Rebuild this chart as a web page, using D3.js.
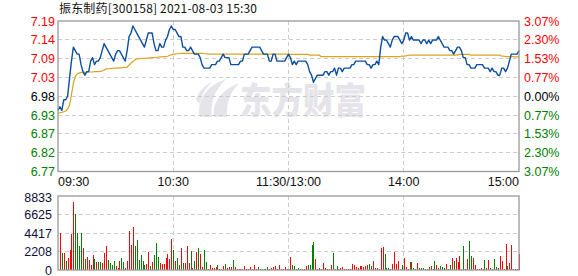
<!DOCTYPE html>
<html><head><meta charset="utf-8">
<script src="https://cdn.jsdelivr.net/npm/d3@7"></script>
<style>body{margin:0;background:#fff}svg{display:block}</style>
</head><body>
<svg id="c" width="578" height="276"></svg>
<script>
// ---------------- data ----------------
const title = "振东制药[300158] 2021-08-03 15:30";
const preClose = 6.98;
const maxPct = 3.07;
const priceTickLabels = ["7.19","7.14","7.09","7.03","6.98","6.93","6.87","6.82","6.77"];
const pctTickLabels = ["3.07%","2.30%","1.53%","0.77%","0.00%","0.77%","1.53%","2.30%","3.07%"];
const volTickLabels = ["8833","6625","4417","2208","0"];
const volMax = 8833;
const timeLabels = ["09:30","10:30","11:30/13:00","14:00","15:00"];
const timeLabelMinute = [0,60,120,180,240];

const price = [
6.94,6.95,6.94,6.97,6.97,6.98,7.03,7.08,7.12,7.11,7.10,
7.10,7.07,7.05,7.04,7.05,7.05,7.08,7.09,7.07,7.08,
7.08,7.09,7.11,7.13,7.12,7.11,7.10,7.09,7.08,7.10,
7.11,7.11,7.10,7.09,7.08,7.11,7.15,7.16,7.18,7.17,
7.16,7.15,7.14,7.13,7.12,7.14,7.16,7.16,7.16,7.13,
7.11,7.11,7.13,7.12,7.12,7.14,7.15,7.17,7.18,7.17,
7.17,7.16,7.15,7.15,7.12,7.12,7.11,7.11,7.12,7.11,
7.10,7.10,7.10,7.09,7.07,7.06,7.06,7.06,7.06,7.07,
7.07,7.07,7.08,7.08,7.09,7.10,7.09,7.09,7.09,7.07,
7.07,7.07,7.07,7.07,7.08,7.08,7.10,7.10,7.10,7.11,
7.12,7.12,7.12,7.12,7.12,7.11,7.10,7.10,7.10,7.08,
7.08,7.10,7.10,7.08,7.08,7.08,7.08,7.08,7.09,7.10,
7.09,7.07,7.08,7.07,7.08,7.08,7.08,7.08,7.08,7.07,
7.05,7.04,7.02,7.03,7.04,7.04,7.04,7.04,7.05,7.05,
7.04,7.05,7.05,7.06,7.04,7.06,7.06,7.05,7.06,7.06,
7.06,7.06,7.07,7.07,7.08,7.08,7.08,7.08,7.08,7.08,
7.07,7.07,7.06,7.07,7.07,7.08,7.07,7.12,7.15,7.14,
7.14,7.13,7.12,7.14,7.15,7.15,7.15,7.14,7.13,7.14,
7.16,7.16,7.14,7.15,7.14,7.14,7.14,7.14,7.13,7.14,
7.14,7.13,7.14,7.13,7.14,7.14,7.14,7.15,7.14,7.13,
7.12,7.12,7.12,7.11,7.11,7.10,7.11,7.12,7.12,7.11,
7.09,7.09,7.07,7.07,7.06,7.06,7.06,7.07,7.07,7.07,
7.07,7.06,7.06,7.06,7.05,7.06,7.05,7.05,7.04,7.04,
7.06,7.06,7.05,7.06,7.08,7.10,7.10,7.10,7.10,7.11
];

const avgPrice = [
6.932,6.933,6.934,6.936,6.938,6.943,6.955,6.984,7.017,7.036,7.044,
7.046,7.048,7.048,7.048,7.048,7.049,7.049,7.049,7.050,7.050,
7.050,7.051,7.052,7.055,7.058,7.058,7.059,7.059,7.060,7.060,
7.060,7.061,7.061,7.062,7.062,7.063,7.069,7.074,7.079,7.083,
7.086,7.087,7.087,7.088,7.088,7.088,7.089,7.089,7.090,7.090,
7.091,7.091,7.092,7.092,7.093,7.093,7.094,7.096,7.098,7.100,
7.100,7.101,7.101,7.102,7.102,7.102,7.102,7.102,7.102,7.102,
7.102,7.102,7.102,7.102,7.102,7.101,7.101,7.100,7.100,7.100,
7.100,7.100,7.100,7.100,7.100,7.100,7.100,7.100,7.100,7.100,
7.100,7.100,7.100,7.100,7.100,7.100,7.100,7.100,7.100,7.100,
7.100,7.100,7.100,7.100,7.100,7.100,7.100,7.100,7.100,7.100,
7.100,7.100,7.100,7.100,7.100,7.100,7.100,7.100,7.100,7.100,
7.099,7.099,7.099,7.099,7.099,7.099,7.099,7.099,7.099,7.099,
7.097,7.097,7.097,7.097,7.097,7.097,7.093,7.093,7.093,7.093,
7.093,7.093,7.093,7.093,7.093,7.093,7.093,7.093,7.093,7.093,
7.093,7.093,7.093,7.093,7.093,7.093,7.093,7.093,7.093,7.093,
7.093,7.093,7.093,7.093,7.093,7.093,7.093,7.093,7.093,7.093,
7.093,7.093,7.093,7.093,7.093,7.093,7.093,7.093,7.094,7.094,
7.095,7.096,7.097,7.097,7.097,7.097,7.097,7.097,7.097,7.097,
7.097,7.097,7.097,7.097,7.097,7.097,7.097,7.097,7.097,7.097,
7.097,7.097,7.097,7.097,7.097,7.097,7.097,7.098,7.099,7.099,
7.099,7.099,7.099,7.099,7.097,7.097,7.097,7.097,7.097,7.097,
7.097,7.097,7.097,7.097,7.097,7.097,7.097,7.097,7.097,7.097,
7.094,7.094,7.093,7.093,7.093,7.093,7.093,7.092,7.092,7.092
];

const volume = [
0,4378,1990,1990,1075,1393,2388,4259,8079,6647,4378,
2866,4378,2587,1313,1552,1194,597,1791,1274,915,
915,915,796,1990,2866,1194,796,597,1075,517,
279,1075,1393,915,199,1075,4657,2985,5134,2866,
3582,1194,1791,1075,597,716,2149,478,955,1791,
3224,1552,796,716,716,1433,1910,1313,3701,2388,
1075,1433,597,2627,836,836,2866,836,2269,239,
1075,2149,2627,1910,358,2388,955,119,597,239,
239,358,597,159,159,478,716,239,358,398,
1194,358,159,159,159,159,478,159,159,358,
159,597,119,358,119,119,119,119,358,119,
239,398,478,119,597,119,119,358,119,119,
1552,597,478,119,279,119,119,119,478,597,
597,2985,3343,1313,119,239,119,836,239,119,
119,597,2030,119,478,119,239,358,119,119,
119,119,716,597,358,239,478,478,358,517,
597,716,478,1075,239,239,119,2627,2746,1910,
239,239,119,716,2149,716,1075,119,597,1433,
358,119,955,955,239,119,836,239,239,239,
119,119,358,478,119,1075,597,239,478,358,
239,716,119,597,1433,1075,1433,955,1672,60,
2866,119,1313,3463,1672,1433,597,119,119,239,
60,1194,239,1194,239,119,1313,358,239,1672,
1075,119,3104,478,836,2985,60,60,60,1910
];

// 1 = up (red), 0 = down (green)
const volUp = [
1,1,0,1,0,1,1,1,1,0,0,
0,0,1,0,1,1,1,1,0,1,
0,0,1,1,1,0,0,0,0,1,
1,1,0,0,0,1,1,1,1,0,
0,0,0,0,0,1,1,0,1,0,
0,0,1,1,1,1,1,1,1,0,
1,0,0,1,0,1,1,1,0,1,
0,1,0,1,1,0,0,1,1,1,
1,1,0,1,1,1,0,1,1,1,
0,1,1,1,1,1,1,1,1,1,
1,1,1,0,0,0,0,0,0,0,
1,1,1,1,1,1,1,1,1,1,
1,0,0,0,0,1,1,1,1,0,
0,0,0,1,1,1,1,1,1,1,
1,1,0,1,0,1,1,1,1,1,
1,1,1,1,1,1,1,1,1,1,
1,0,0,1,1,1,0,1,1,0,
0,0,0,1,1,1,1,0,0,1,
1,1,0,1,0,0,1,0,0,0,
1,1,0,1,1,0,1,1,0,0,
0,1,1,0,1,0,1,1,1,1,
0,1,1,0,0,1,1,1,1,1,
1,0,1,1,0,1,0,0,1,1,
1,1,1,0,1,1,1,1,1,1
];

// ---------------- drawing ----------------
const RED = "#ff0000", GREEN = "#008000", DARK = "#000000";
const svg = d3.select("#c");
const L = 58, R = 519, T = 21, B = 171.5, VT = 196, VB = 270;
const numFont = "'Liberation Sans', Arial, sans-serif";

const x = d3.scaleLinear().domain([0, 240]).range([L, R]);
const y = d3.scaleLinear()
  .domain([preClose * (1 - maxPct / 100), preClose * (1 + maxPct / 100)])
  .range([B, T]);
const yv = d3.scaleLinear().domain([0, volMax]).range([VB, VT]);

// tick values at evenly spaced percentage levels
const tickVals = d3.range(9).map(k => preClose * (1 + maxPct / 100 * (4 - k) / 4));
const volTickVals = d3.range(5).map(k => volMax * (4 - k) / 4);

// watermark
const wm = svg.append("g").attr("fill", "#e4e4e9");
wm.append("path").attr("d", "M200,117 C196,101 206,86 226,79 C214,91 210,103 212,117 Z");
wm.append("path").attr("d", "M214,117 C212,103 221,90 239,83 C229,94 226,105 227,117 Z");
wm.append("path").attr("d", "M196,100 C198,92 204,86 212,82 C205,89 201,95 200,104 Z");
wm.append("text").attr("x", 240).attr("y", 114)
  .attr("font-family", "'Noto Sans CJK SC', sans-serif").attr("font-weight", 900)
  .attr("font-size", 36).attr("textLength", 126).attr("lengthAdjust", "spacingAndGlyphs")
  .text("东方财富");

// grid
const grid = svg.append("g").attr("stroke", "#cccccc").attr("stroke-dasharray", "4,3")
  .attr("shape-rendering", "crispEdges");
tickVals.slice(1, 8).forEach(v => {
  grid.append("line").attr("x1", L).attr("x2", R).attr("y1", y(v)).attr("y2", y(v));
});
volTickVals.slice(1, 4).forEach(v => {
  grid.append("line").attr("x1", L).attr("x2", R).attr("y1", yv(v)).attr("y2", yv(v));
});
[60, 120, 180].forEach(m => {
  grid.append("line").attr("x1", x(m)).attr("x2", x(m)).attr("y1", T).attr("y2", B);
  grid.append("line").attr("x1", x(m)).attr("x2", x(m)).attr("y1", VT).attr("y2", VB);
});

// volume bars
svg.append("g").attr("shape-rendering", "crispEdges")
  .selectAll("rect").data(volume).join("rect")
  .attr("x", (d, i) => Math.round(x(i)))
  .attr("width", 1)
  .attr("y", d => yv(d))
  .attr("height", d => VB - yv(d))
  .attr("fill", (d, i) => volUp[i] ? RED : GREEN);

// avg line
const line = d3.line().x((d, i) => x(i)).y(d => y(d));
svg.append("path").attr("d", line(avgPrice)).attr("fill", "none")
  .attr("stroke", "#dba520").attr("stroke-width", 1.2);
// price line
svg.append("path").attr("d", line(price)).attr("fill", "none")
  .attr("stroke", "#0d4f9e").attr("stroke-width", 1.4).attr("stroke-linejoin", "round");

// frames
svg.append("rect").attr("x", L).attr("y", T).attr("width", R - L).attr("height", B - T)
  .attr("fill", "none").attr("stroke", "#999").attr("stroke-width", 1.3);
svg.append("rect").attr("x", L).attr("y", VT).attr("width", R - L).attr("height", VB - VT)
  .attr("fill", "none").attr("stroke", "#999").attr("stroke-width", 1.3);

// title
svg.append("text").attr("x", 59).attr("y", 12.5)
  .attr("font-family", "'Noto Sans CJK SC', sans-serif").attr("font-size", 12)
  .attr("textLength", 198).attr("lengthAdjust", "spacing")
  .attr("fill", "#111").text(title);

const colorFor = k => k < 4 ? RED : (k === 4 ? DARK : GREEN);

// left price labels
svg.append("g").selectAll("text").data(priceTickLabels).join("text")
  .attr("x", 55).attr("y", (d, k) => tickVals[k]).attr("y", (d, k) => y(tickVals[k]) + 4.5)
  .attr("text-anchor", "end").attr("font-family", numFont).attr("font-size", 12.5)
  .attr("fill", (d, k) => colorFor(k)).text(d => d);

// right pct labels
svg.append("g").selectAll("text").data(pctTickLabels).join("text")
  .attr("x", 524).attr("y", (d, k) => y(tickVals[k]) + 4.5)
  .attr("text-anchor", "start").attr("font-family", numFont).attr("font-size", 12.5)
  .attr("fill", (d, k) => colorFor(k)).text(d => d);

// volume labels
svg.append("g").selectAll("text").data(volTickLabels).join("text")
  .attr("x", 52).attr("y", (d, k) => yv(volTickVals[k]) + 4.5 + (k === 0 ? 1.5 : 0))
  .attr("text-anchor", "end").attr("font-family", numFont).attr("font-size", 12.5)
  .attr("fill", "#10103a").text(d => d);

// time labels
svg.append("g").selectAll("text").data(timeLabels).join("text")
  .attr("x", (d, k) => x(timeLabelMinute[k]))
  .attr("y", 186)
  .attr("text-anchor", (d, k) => k === 0 ? "start" : (k === timeLabels.length - 1 ? "end" : "middle"))
  .attr("font-family", numFont).attr("font-size", 12.5)
  .attr("fill", "#111").text(d => d);
</script>
</body></html>
